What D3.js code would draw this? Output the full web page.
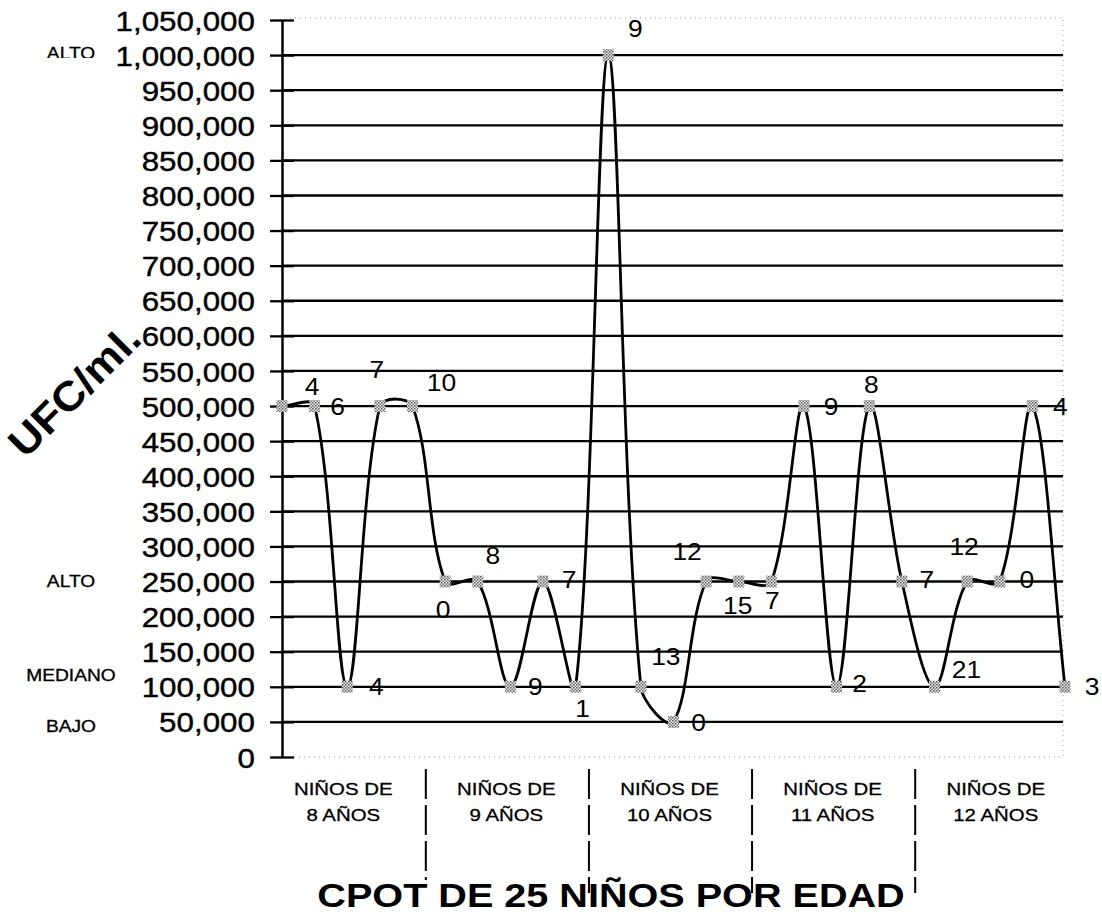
<!DOCTYPE html>
<html>
<head>
<meta charset="utf-8">
<script src="https://cdn.jsdelivr.net/npm/d3@7"></script>
<style>
body{margin:0;background:#fff}
text{font-family:"Liberation Sans",Arial,sans-serif;fill:#000}
</style>
</head>
<body>
<script>
// DATA - one value per child sample, 5 per age group
var ufcValues = [500000,500000,100000,500000,500000,
                 250000,250000,100000,250000,100000,
                 1000000,100000,50000,250000,250000,
                 250000,500000,100000,500000,250000,
                 100000,250000,250000,500000,100000];
var pointLabels = ["4","6","4","7","10",
                   "0","8","9","7","1",
                   "9","13","0","12","15",
                   "7","9","2","8","7",
                   "21","12","0","4","3"];
var ageGroups = ["8 AÑOS","9 AÑOS","10 AÑOS","11 AÑOS","12 AÑOS"];
var groupTitle = "NIÑOS DE";
var yTicks = [0,50000,100000,150000,200000,250000,300000,350000,400000,450000,500000,
              550000,600000,650000,700000,750000,800000,850000,900000,950000,1000000,1050000];
var levelNames = ["ALTO","ALTO","MEDIANO","BAJO"];
var levelValues = [1000000,250000,100000,50000];
var yTitle = "UFC/ml.";
var xTitle = "CPOT DE 25 NIÑOS POR EDAD";

// LAYOUT (not data): label offsets from their point, in px
var labelOffsets = [[30,-20],[23,0],[29,0],[-3,-37],[29,-24],
                    [-2,28],[15,-26],[25,0],[26,-2],[7,22],
                    [27,-27],[25,-30],[25,0],[-19,-30],[-1,24],
                    [1,19],[27,0],[23,-3],[2,-22],[25,-2],
                    [32,-17],[-3,-35],[27,-2],[28,0],[27,0]];
var levelDy = [-2,0,-12,4];

var width = 1102, height = 915;
var plotLeft = 282, plotRight = 1063, plotTop = 20, plotBottom = 757;
var perGroup = ufcValues.length / ageGroups.length;

var svg = d3.select("body").append("svg")
  .attr("width", width).attr("height", height)
  .style("background", "#fff");

var defs = svg.append("defs");
// dotted marker fill
var pat = defs.append("pattern")
  .attr("id", "dots").attr("width", 3).attr("height", 3)
  .attr("patternUnits", "userSpaceOnUse");
pat.append("rect").attr("width", 3).attr("height", 3).attr("fill", "#eee");
pat.append("rect").attr("width", 1.5).attr("height", 1.5).attr("fill", "#555");
pat.append("rect").attr("x", 1.5).attr("y", 1.5).attr("width", 1.5).attr("height", 1.5).attr("fill", "#777");
// the top "ALTO" is partly cut off in the scan
defs.append("clipPath").attr("id", "cutTop")
  .append("rect").attr("x", 0).attr("y", 0).attr("width", 140).attr("height", 58);

var x = d3.scalePoint().domain(d3.range(ufcValues.length)).range([plotLeft, 1065]);
var y = d3.scaleLinear().domain([0, 1050000]).range([plotBottom, plotTop]);

// dotted plot area border (top, right, bottom)
svg.append("path")
  .attr("d", "M" + (plotLeft + 8) + "," + (plotTop - 2) + "H" + plotRight + "V" + plotBottom + "H" + (plotLeft + 8))
  .attr("fill", "none").attr("stroke", "#999").attr("stroke-width", 1)
  .attr("stroke-dasharray", "1,4");

// gridlines
svg.append("g").selectAll("line")
  .data(yTicks.filter(function(d){ return d > 0 && d < 1050000; }))
  .enter().append("line")
  .attr("x1", plotLeft).attr("x2", plotRight)
  .attr("y1", function(d){ return y(d); }).attr("y2", function(d){ return y(d); })
  .attr("stroke", "#000").attr("stroke-width", 2.3);

// y axis with cross ticks
var yAxis = svg.append("g")
  .attr("transform", "translate(" + plotLeft + ",0)")
  .call(d3.axisLeft(y).tickValues(yTicks).tickSize(12).tickSizeOuter(0).tickFormat(d3.format(",")));
yAxis.select(".domain").attr("stroke", "#000").attr("stroke-width", 2.5);
yAxis.selectAll(".tick line").attr("x1", 12).attr("stroke-width", 2.3);
yAxis.selectAll(".tick text")
  .attr("x", null).attr("dy", "0.36em")
  .attr("transform", "translate(-27,0) scale(1.12,1)")
  .attr("stroke", "#000").attr("stroke-width", 0.4)
  .style("font-size", "28px").style("font-family", "'Liberation Sans',Arial,sans-serif");

// level labels on the far left
levelNames.forEach(function(name, i){
  svg.append("g")
    .attr("clip-path", i == 0 ? "url(#cutTop)" : null)
    .append("text")
    .attr("transform", "translate(71," + (y(levelValues[i]) + levelDy[i]) + ") scale(1.2,1)")
    .attr("text-anchor", "middle").attr("dy", "0.36em")
    .attr("stroke", "#000").attr("stroke-width", 0.3)
    .style("font-size", "16px")
    .text(name);
});

// y title, rotated
svg.append("text")
  .attr("transform", "translate(74,390) rotate(-45) scale(1.08,1)")
  .attr("text-anchor", "middle").attr("dy", "0.36em")
  .style("font-size", "41px").style("font-weight", "bold")
  .text(yTitle);

// smoothed line, spreadsheet style: tangent along the neighbours,
// length scaled by how long each segment is compared with its neighbour
var pts = ufcValues.map(function(d, i){ return [x(i), y(d)]; });
function dist(a, b){ return Math.hypot(b[0] - a[0], b[1] - a[1]); }
var path = d3.path();
path.moveTo(pts[0][0], pts[0][1]);
for (var i = 0; i < pts.length - 1; i++) {
  var p0 = pts[Math.max(i - 1, 0)], p1 = pts[i], p2 = pts[i + 1], p3 = pts[Math.min(i + 2, pts.length - 1)];
  var seg = dist(p1, p2);
  var f1 = seg / (dist(p0, p1) + seg) / 3;
  var f2 = seg / (seg + dist(p2, p3)) / 3;
  path.bezierCurveTo(
    p1[0] + (p2[0] - p0[0]) * f1, p1[1] + (p2[1] - p0[1]) * f1,
    p2[0] - (p3[0] - p1[0]) * f2, p2[1] - (p3[1] - p1[1]) * f2,
    p2[0], p2[1]);
}
svg.append("path")
  .attr("d", path.toString())
  .attr("fill", "none").attr("stroke", "#000").attr("stroke-width", 2.8);

// markers
svg.append("g").selectAll("rect")
  .data(ufcValues)
  .enter().append("rect")
  .attr("x", function(d, i){ return x(i) - 5.5; })
  .attr("y", function(d){ return y(d) - 6; })
  .attr("width", 11).attr("height", 12)
  .attr("fill", "url(#dots)");

// point labels
svg.append("g").selectAll("text")
  .data(pointLabels)
  .enter().append("text")
  .attr("transform", function(d, i){
    return "translate(" + (x(i) + labelOffsets[i][0]) + "," + (y(ufcValues[i]) + labelOffsets[i][1]) + ") scale(1.1,1)";
  })
  .attr("text-anchor", "middle").attr("dy", "0.36em")
  .style("font-size", "24px")
  .text(function(d){ return d; });

// group separators (dashed) between age groups
var seps = d3.range(1, ageGroups.length).map(function(g){
  return (x(g * perGroup - 1) + x(g * perGroup)) / 2 - 3;
});
svg.append("g").selectAll("line")
  .data(seps)
  .enter().append("line")
  .attr("x1", function(d){ return d; }).attr("x2", function(d){ return d; })
  .attr("y1", 769).attr("y2", function(d, i){ return i == 0 ? 880 : 893; })
  .attr("stroke", "#000").attr("stroke-width", 2)
  .attr("stroke-dasharray", "30,6");

// age group labels
ageGroups.forEach(function(age, g){
  var cx = x(g * perGroup + Math.floor(perGroup / 2)) - 4;
  svg.append("text")
    .attr("transform", "translate(" + cx + ",789) scale(1.2,1)")
    .attr("text-anchor", "middle").attr("dy", "0.36em")
    .attr("stroke", "#000").attr("stroke-width", 0.3)
    .style("font-size", "17px")
    .text(groupTitle);
  svg.append("text")
    .attr("transform", "translate(" + cx + ",815) scale(1.2,1)")
    .attr("text-anchor", "middle").attr("dy", "0.36em")
    .attr("stroke", "#000").attr("stroke-width", 0.3)
    .style("font-size", "17px")
    .text(age);
});

// x title
svg.append("text")
  .attr("transform", "translate(611,895) scale(1.2,1)")
  .attr("text-anchor", "middle").attr("dy", "0.36em")
  .style("font-size", "33px").style("font-weight", "bold")
  .text(xTitle);
</script>
</body>
</html>
